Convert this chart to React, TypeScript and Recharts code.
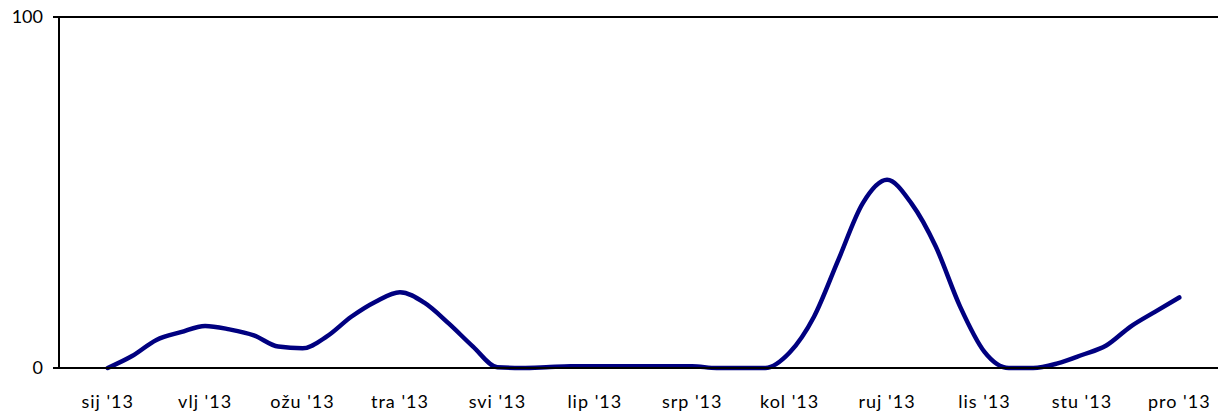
import { LineChart, Line, XAxis, YAxis, CartesianGrid } from 'recharts';

// month labels on the category axis
const months = ["sij '13", "vlj '13", "ožu '13", "tra '13", "svi '13", "lip '13", "srp '13", "kol '13", "ruj '13", "lis '13", "stu '13", "pro '13"];

// four readings per month, from mid sij to mid pro
const values = [
  0, 3.4, 8, 10.2,
  12, 11, 9.3, 6.1,
  5.6, 9, 14.6, 18.9,
  21.6, 18.6, 12.7, 6.1,
  0.2, 0, 0.2, 0.5,
  0.5, 0.5, 0.5, 0.5,
  0.5, 0, 0, 0,
  4.4, 14.6, 30.8, 46.9,
  53.6, 46.9, 34.6, 17.5,
  4.6, 0, 0, 1.3,
  3.7, 6.4, 11.8, 16,
  20.1,
];

const yTicks = [0, 100];
const monthEdges = months.map((_, i) => i).concat(months.length);
const monthMids = months.map((_, i) => i + 0.5);

const data = values.map((v, i) => ({ x: 0.5 + i / 4, v }));

const font = { fontFamily: 'Lato, "Open Sans", sans-serif', fontSize: 18, fill: '#000' };
const axisStroke = { stroke: '#000', strokeWidth: 2 };

export default function App() {
  return (
    <div style={{ position: 'absolute', left: 0, top: 0, width: 1218, height: 412, overflow: 'hidden', background: '#fff' }}>
      <LineChart width={1240} height={412} data={data} margin={{ top: 17, right: 12, bottom: 0, left: 0 }}>
        <CartesianGrid vertical={false} stroke="#000" strokeWidth={2} strokeOpacity={1} />
        <XAxis
          dataKey="x"
          type="number"
          domain={[0, 12]}
          ticks={monthEdges}
          interval={0}
          tick={false}
          tickSize={6}
          height={6}
          axisLine={axisStroke}
          tickLine={axisStroke}
          allowDataOverflow
        />
        <XAxis
          xAxisId="lbl"
          dataKey="x"
          type="number"
          domain={[0, 12]}
          ticks={monthMids}
          interval={0}
          tickFormatter={(t: number) => months[Math.floor(t)]}
          tick={{ ...font, letterSpacing: 1 }}
          tickSize={0}
          tickMargin={21}
          height={38}
          axisLine={false}
          tickLine={false}
          allowDataOverflow
        />
        <YAxis
          type="number"
          domain={[0, 100]}
          ticks={yTicks}
          interval={0}
          width={59}
          tickSize={6}
          tickMargin={10}
          tick={font}
          axisLine={axisStroke}
          tickLine={axisStroke}
        />
        <Line
          type="monotone"
          dataKey="v"
          stroke="#000080"
          strokeWidth={4.5}
          strokeLinecap="round"
          strokeLinejoin="round"
          dot={false}
          activeDot={false}
          isAnimationActive={false}
        />
      </LineChart>
    </div>
  );
}
